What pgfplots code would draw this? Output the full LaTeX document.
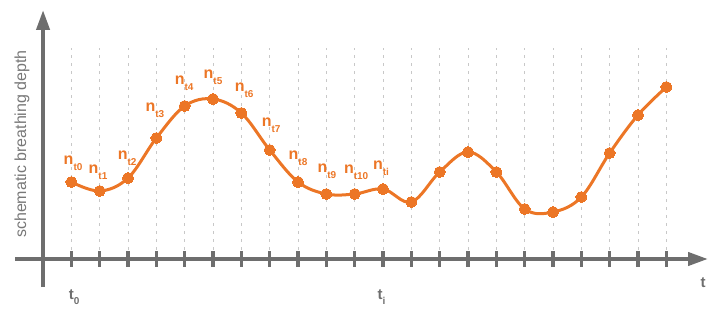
\documentclass[border=0pt]{standalone}
\usepackage{pgfplots}
\pgfplotsset{compat=1.18}
\usetikzlibrary{arrows.meta}
\usepackage{fontspec}
\setmainfont{Liberation Sans}
\definecolor{orng}{RGB}{236,118,38}
\definecolor{axgray}{RGB}{110,110,110}
\definecolor{lblgray}{RGB}{120,120,120}
\definecolor{gridgray}{RGB}{200,200,200}
\newcommand{\nl}[1]{\fontsize{16bp}{16bp}\selectfont\bfseries n\raisebox{-0.35em}{\fontsize{10bp}{10bp}\selectfont\bfseries #1}}
\newcommand{\tl}[1]{\fontsize{15bp}{15bp}\selectfont\bfseries t\raisebox{-0.35em}{\fontsize{10bp}{10bp}\selectfont\bfseries #1}}
\begin{document}
\begin{tikzpicture}
\useasboundingbox (0,0) rectangle (727bp,314bp);
\begin{axis}[
  at={(15bp,27bp)}, anchor=south west,
  scale only axis, width=693bp, height=277bp,
  xmin=-0.99, xmax=23.47, ymin=-28, ymax=249,
  axis lines=middle,
  axis line style={-{Triangle[length=20bp,width=13bp]}, line width=4bp, color=axgray},
  xtick={1,...,22},
  xticklabel style={text opacity=0, opacity=0},
  xticklabels={},
  ytick=\empty,
  tick align=center,
  major tick length=15bp,
  every tick/.style={line width=3.2bp, color=axgray},
  clip=false,
]
\pgfplotsinvokeforeach{1,...,22}{
  \draw[gridgray, line width=0.8bp, dash pattern=on 3bp off 5bp] (axis cs:#1,9) -- (axis cs:#1,211);
}
\addplot[orng, line width=3bp, smooth, tension=0.6, mark=*, mark size=5.5bp, mark options={fill=orng, draw=orng, line width=0bp}] coordinates {
(1,77) (2,68) (3,81) (4,121) (5,153) (6,160) (7,146) (8,109) (9,77) (10,65) (11,65) (12,70) (13,57) (14,87) (15,107) (16,87) (17,50) (18,47) (19,62) (20,106) (21,144) (22,172)
};
\begin{scope}[every node/.style={text=orng, inner sep=0pt}]
\node at (axis cs:1.06,96) {\nl{t0}};
\node at (axis cs:1.94,87) {\nl{t1}};
\node at (axis cs:2.97,101) {\nl{t2}};
\node at (axis cs:3.95,149) {\nl{t3}};
\node at (axis cs:4.98,176) {\nl{t4}};
\node at (axis cs:6.0,182) {\nl{t5}};
\node at (axis cs:7.1,169) {\nl{t6}};
\node at (axis cs:8.05,134) {\nl{t7}};
\node at (axis cs:9.0,101) {\nl{t8}};
\node at (axis cs:10.02,88) {\nl{t9}};
\node at (axis cs:11.05,87) {\nl{t10}};
\node at (axis cs:11.93,91) {\nl{ti}};
\end{scope}
\begin{scope}[every node/.style={text=axgray, inner sep=0pt}]
\node at (axis cs:1.1,-38) {\tl{0}};
\node at (axis cs:11.95,-38) {\tl{i}};
\node at (axis cs:23.3,-24) {\fontsize{15bp}{15bp}\selectfont\bfseries t};
\end{scope}
\node[rotate=90, text=lblgray, inner sep=0pt] at (axis cs:-0.74,115) {\fontsize{16bp}{16bp}\selectfont schematic breathing depth};
\end{axis}
\end{tikzpicture}
\end{document}
